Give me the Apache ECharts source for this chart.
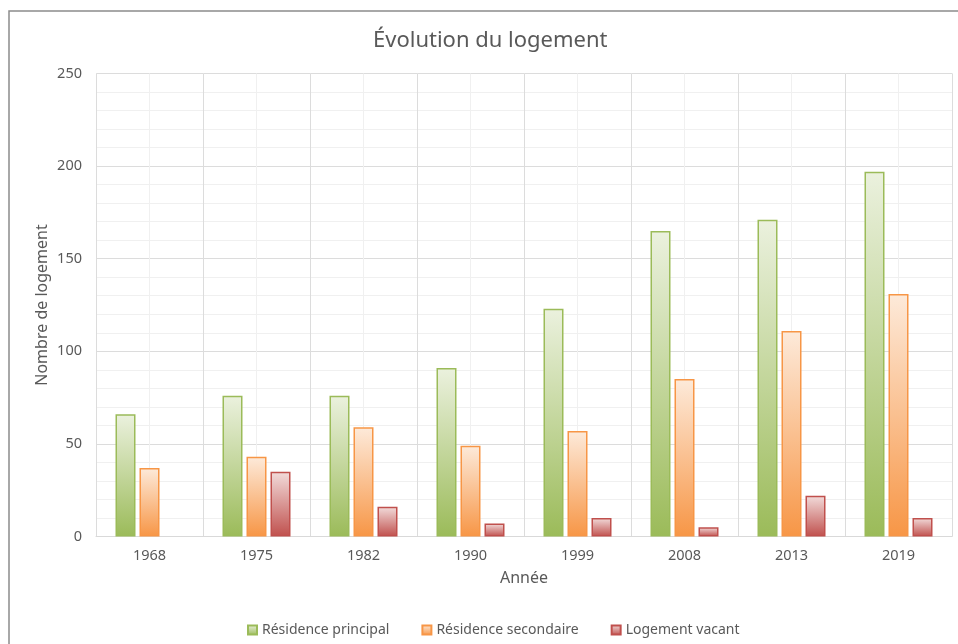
<!DOCTYPE html>
<html>
<head>
<meta charset="utf-8">
<script src="https://cdn.jsdelivr.net/npm/echarts@6/dist/echarts.min.js"></script>
<style>html,body{margin:0;padding:0;background:#fff}#c{width:958px;height:644px}</style>
</head>
<body>
<div id="c"></div>
<script>
var categories = ['1968', '1975', '1982', '1990', '1999', '2008', '2013', '2019'];
var residencePrincipal = [66, 76, 76, 91, 123, 165, 171, 197];
var residenceSecondaire = [37, 43, 59, 49, 57, 85, 111, 131];
var logementVacant = [null, 35, 16, 7, 10, 5, 22, 10];
var seriesNames = ['Résidence principal', 'Résidence secondaire', 'Logement vacant'];
var yTicks = [0, 50, 100, 150, 200, 250];

var FONT = 'Noto Sans';
var TXT = '#595959';

function grad(top, bottom) {
  return new echarts.graphic.LinearGradient(0, 0, 0, 1, [
    { offset: 0, color: top },
    { offset: 1, color: bottom }
  ]);
}

var chart = echarts.init(document.getElementById('c'), null, { renderer: 'canvas' });
var option = {
  animation: false,
  backgroundColor: '#ffffff',
  textStyle: { fontFamily: FONT, color: TXT },
  title: {
    text: 'Évolution du logement',
    left: 368, top: 25,
    textStyle: { fontFamily: FONT, fontSize: 22, fontWeight: 'normal', color: TXT }
  },
  legend: {
    left: 242, top: 618,
    itemWidth: 9, itemHeight: 9, itemGap: 32,
    icon: 'rect',
    textStyle: { fontFamily: FONT, fontSize: 14, color: TXT },
    data: seriesNames
  },
  grid: { left: 96, right: 6, top: 73.5, bottom: 107.5, containLabel: false },
  xAxis: [{
    type: 'category',
    data: categories,
    name: 'Année',
    nameLocation: 'middle',
    nameGap: 34,
    nameMoveOverlap: false,
    nameTextStyle: { fontFamily: FONT, fontSize: 16, color: TXT },
    axisLine: { show: true, lineStyle: { color: '#d9d9d9', width: 1 } },
    axisTick: { show: false },
    axisLabel: { margin: 12, fontFamily: FONT, fontSize: 14.5, color: TXT },
    splitLine: { show: true, lineStyle: { color: '#dcdcdc', width: 1 } },
    z: 2
  }, {
    type: 'value',
    min: 0, max: 16, interval: 1,
    position: 'bottom',
    show: true,
    axisLine: { show: false },
    axisTick: { show: false },
    axisLabel: { show: false },
    splitLine: { show: true, lineStyle: { color: '#f0f0f0', width: 1 } },
    z: 0
  }],
  yAxis: {
    type: 'value',
    min: 0, max: 250, interval: 50,
    name: 'Nombre de logement',
    nameLocation: 'middle',
    nameGap: 46,
    nameMoveOverlap: false,
    nameTextStyle: { fontFamily: FONT, fontSize: 16, color: TXT },
    axisLine: { show: false },
    axisTick: { show: false },
    axisLabel: {
      margin: 14, fontFamily: FONT, fontSize: 14.5, color: TXT,
      formatter: function (v) { return yTicks.indexOf(v) >= 0 ? String(v) : ''; }
    },
    splitLine: { show: true, lineStyle: { color: '#dcdcdc', width: 1 } },
    minorTick: { show: false, splitNumber: 5 },
    minorSplitLine: { show: true, lineStyle: { color: '#f0f0f0', width: 1 } }
  },
  series: [{
    name: seriesNames[0], type: 'bar', data: residencePrincipal,
    barWidth: 20, barGap: '20%',
    itemStyle: { color: grad('#ebf1de', '#9bbb59'), borderColor: '#9bbb59', borderWidth: 1.5 }
  }, {
    name: seriesNames[1], type: 'bar', data: residenceSecondaire,
    barWidth: 20, barGap: '20%',
    itemStyle: { color: grad('#fdeada', '#f79646'), borderColor: '#f79646', borderWidth: 1.5 }
  }, {
    name: seriesNames[2], type: 'bar', data: logementVacant,
    barWidth: 20, barGap: '20%',
    itemStyle: { color: grad('#f2dcdb', '#c0504d'), borderColor: '#c0504d', borderWidth: 1.5 }
  }],
  graphic: [{
    type: 'polyline',
    shape: { points: [[9, 644], [9, 11], [958, 11]] },
    style: { stroke: '#8c8c8c', lineWidth: 1.5, fill: null },
    silent: true
  }]
};
chart.setOption(option);
</script>
</body>
</html>
